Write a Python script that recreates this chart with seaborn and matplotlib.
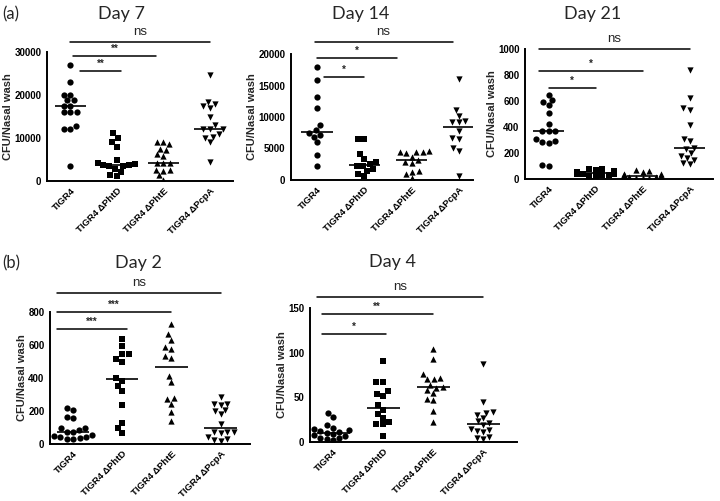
import numpy as np
import pandas as pd
import matplotlib
matplotlib.use('Agg')
import matplotlib.pyplot as plt
import seaborn as sns

groups = ['TIGR4', 'TIGR4 \u0394PhtD', 'TIGR4 \u0394PhtE', 'TIGR4 \u0394PcpA']
markers = ['o', 's', '^', 'v']

# Day 7
d7_tigr4 = [27000, 23000, 20000, 20100, 18800, 18800, 17500, 17500, 16000, 16000, 16000, 12200, 12200, 12900, 3600]
d7_phtd = [11100, 10000, 9100, 8000, 5000, 4100, 3900, 3800, 3700, 3600, 3400, 2800, 2200, 1500, 1100]
d7_phte = [9000, 9000, 8500, 7500, 7200, 6200, 5900, 4300, 4200, 4100, 2600, 2500, 2400, 1300, 200]
d7_pcpa = [24600, 18400, 18000, 17400, 17000, 15000, 13000, 12200, 12000, 12000, 11000, 10200, 10000, 9000, 4500]

# Day 14
d14_tigr4 = [18000, 15800, 13100, 11400, 8700, 7900, 7400, 7200, 6900, 6000, 3900, 2300]
d14_phtd = [6500, 6500, 4200, 3400, 2900, 2500, 2300, 2300, 1700, 1500, 900, 600]
d14_phte = [4600, 4500, 4500, 4400, 4300, 3700, 3100, 2900, 2700, 1500, 1300, 900, 300]
d14_pcpa = [16000, 11100, 10200, 9400, 9200, 9200, 7700, 6700, 6500, 5100, 4600, 700]

# Day 21
d21_tigr4 = [650, 610, 590, 570, 510, 420, 370, 370, 370, 310, 290, 285, 280, 108, 100]
d21_phtd = [80, 75, 70, 60, 55, 50, 48, 45, 42, 40, 35, 30, 28, 25, 20]
d21_phte = [70, 65, 55, 40, 35, 30, 28, 25, 22, 20, 15, 12, 10, 8, 5]
d21_pcpa = [840, 625, 545, 530, 415, 310, 290, 240, 230, 200, 180, 160, 150, 120, 115]

# Day 2
d2_tigr4 = [220, 205, 164, 155, 96, 94, 82, 75, 70, 55, 50, 45, 40, 35, 30, 30]
d2_phtd = [634, 594, 544, 544, 514, 500, 400, 384, 350, 320, 238, 126, 94, 64]
d2_phte = [726, 664, 630, 590, 574, 534, 520, 414, 378, 280, 270, 240, 194, 140]
d2_pcpa = [285, 245, 242, 238, 205, 200, 180, 120, 75, 72, 70, 65, 40, 30, 25, 20]

# Day 4
d4_tigr4 = [33, 28, 19, 16, 15, 13, 12, 11, 10, 9, 8, 7, 5, 4, 3, 2]
d4_phtd = [91, 67, 67, 57, 54, 52, 41, 36, 31, 27, 22, 20, 20, 7]
d4_phte = [104, 93, 76, 72, 71, 70, 64, 62, 61, 58, 55, 48, 47, 35, 22]
d4_pcpa = [87, 45, 34, 33, 30, 27, 23, 21, 19, 15, 13, 12, 11, 6, 4, 3]

sns.set_style('white')
plt.rcParams['font.family'] = ['Liberation Sans', 'DejaVu Sans']

W, H = 720, 501
fig = plt.figure(figsize=(7.2, 5.01), dpi=100)


def px_axes(x0, x1, y0, y1):
    return fig.add_axes([x0 / W, 1 - y1 / H, (x1 - x0) / W, (y1 - y0) / H])


def panel(ax, data, ymax, yticks, xlim, sig):
    rows = []
    for g, vals in zip(groups, data):
        rows += [(g, v) for v in vals]
    df = pd.DataFrame(rows, columns=['group', 'cfu'])

    for g, m in zip(groups, markers):
        sub = df[df['group'] == g]
        sns.swarmplot(x=sub['group'], y=sub['cfu'], order=groups, marker=m,
                      color='black', size=4.5, ax=ax, warn_thresh=1)

    # median line
    sns.boxplot(data=df, x='group', y='cfu', order=groups, width=0.66,
                showbox=False, showcaps=False, showfliers=False, whis=0,
                whiskerprops=dict(linewidth=0),
                medianprops=dict(color='black', linewidth=1.2), ax=ax)

    ax.set_ylim(0, ymax)
    ax.set_xlim(*xlim)
    ax.set_yticks(yticks)
    ax.set_yticklabels([str(t) for t in yticks], fontsize=7, fontweight='bold')
    ax.set_xticks(range(len(groups)))
    ax.set_xticklabels(groups, rotation=45, ha='right', rotation_mode='anchor',
                       fontsize=6.8, fontweight='bold')
    ax.set_xlabel('')
    ax.set_ylabel('CFU/Nasal wash', fontsize=8, fontweight='bold', labelpad=1)
    sns.despine(ax=ax)
    for s in ['left', 'bottom']:
        ax.spines[s].set_linewidth(1.4)
        ax.spines[s].set_color('black')
    ax.tick_params(axis='both', direction='out', length=3, width=1.2, pad=1,
                   colors='black')

    for x0, x1, yf, label in sig:
        y = yf * ymax
        ax.plot([x0, x1], [y, y], color='black', lw=1.1, clip_on=False)
        if label == 'ns':
            ax.text((x0 + x1) / 2, y + 0.03 * ymax, label, ha='center', va='bottom',
                    fontsize=9.5, clip_on=False)
        else:
            ax.text((x0 + x1) / 2, y + 0.015 * ymax, label, ha='center', va='bottom',
                    fontsize=7, fontweight='bold', clip_on=False)


ax7 = px_axes(47, 233, 52, 181)
panel(ax7, [d7_tigr4, d7_phtd, d7_phte, d7_pcpa], 30000, [0, 10000, 20000, 30000], (-0.5, 3.5),
      [(0, 3, 1.078, 'ns'), (0.05, 1.85, 0.969, '**'), (0.2, 1.1, 0.853, '**')])

ax14 = px_axes(291, 473, 54, 180)
panel(ax14, [d14_tigr4, d14_phtd, d14_phte, d14_pcpa], 20000, [0, 5000, 10000, 15000, 20000], (-0.55, 3.3),
      [(-0.05, 2.87, 1.095, 'ns'), (0, 1.7, 0.968, '*'), (0.15, 1.0, 0.817, '*')])

ax21 = px_axes(525, 713, 49, 179)
panel(ax21, [d21_tigr4, d21_phtd, d21_phte, d21_pcpa], 1000, [0, 200, 400, 600, 800, 1000], (-0.5, 3.5),
      [(-0.2, 3.0, 1.0, 'ns'), (-0.2, 2.0, 0.833, '*'), (0, 1.0, 0.70, '*')])

ax2 = px_axes(50, 250, 312, 444)
panel(ax2, [d2_tigr4, d2_phtd, d2_phte, d2_pcpa], 800, [0, 200, 400, 600, 800], (-0.47, 3.6),
      [(-0.33, 3.0, 1.145, 'ns'), (-0.33, 2.0, 1.0, '***'), (-0.33, 1.1, 0.87, '***')])

ax4 = px_axes(310, 517, 308, 442)
panel(ax4, [d4_tigr4, d4_phtd, d4_phte, d4_pcpa], 150, [0, 50, 100, 150], (-0.46, 3.68),
      [(-0.33, 3.0, 1.084, 'ns'), (-0.23, 2.0, 0.953, '**'), (-0.23, 1.05, 0.805, '*')])

title_font = ['Lato', 'DejaVu Sans']
for x, y, t in [(122, 14, 'Day 7'), (361, 14, 'Day 14'), (593, 14, 'Day 21'),
                (138, 263, 'Day 2'), (393, 262, 'Day 4')]:
    fig.text(x / W, 1 - y / H, t, ha='center', va='center', fontsize=13, family=title_font)
for y, t in [(14, '(a)'), (263, '(b)')]:
    fig.text(2 / W, 1 - y / H, t, ha='left', va='center', fontsize=12, family=title_font)

fig.savefig('out.png', dpi=100)
